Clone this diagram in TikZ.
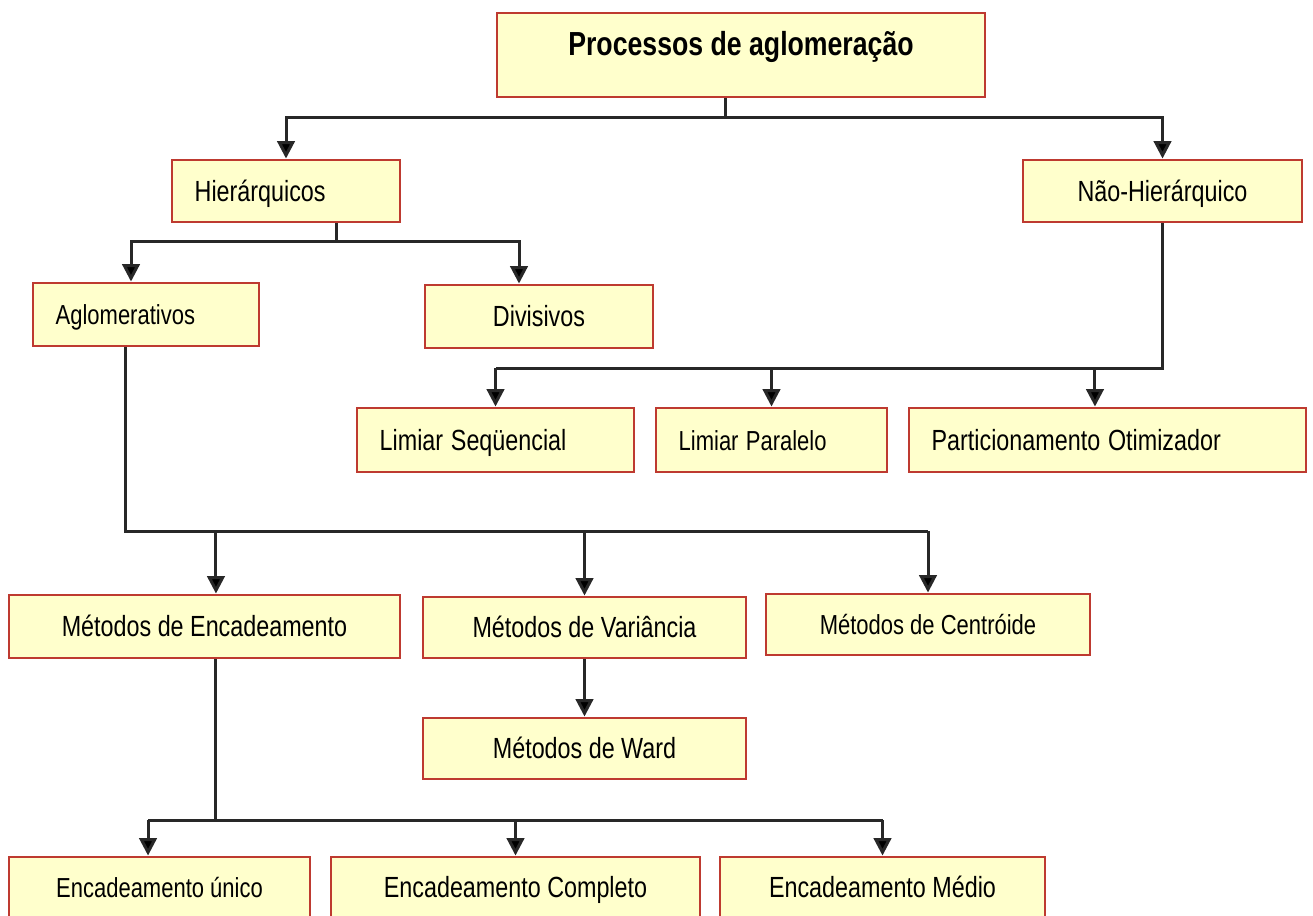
\documentclass[tikz,border=0pt]{standalone}
\usepackage{fontspec}
\setmainfont{Liberation Sans}
\usepackage{graphicx}
\usetikzlibrary{arrows.meta}
\definecolor{boxfill}{RGB}{255,255,204}
\definecolor{boxedge}{RGB}{190,58,48}
\definecolor{wirecol}{RGB}{40,40,40}
% labels are set slightly taller than wide
\newcommand\tallt[1]{\scalebox{1}[1.25]{#1}}
\begin{document}
\begin{tikzpicture}[x=0.75pt,y=-0.75pt,
  box/.style={draw=boxedge, fill=boxfill, line width=2.2pt, inner ysep=0pt, inner xsep=2pt,
    font=\fontsize{17.5}{20}\selectfont, text height=19.5pt, text depth=4pt},
  lbox/.style={box, align=left, inner xsep=17pt, text width=#1},
  smalltext/.style={font=\fontsize{16.5}{20}\selectfont},
  titlebox/.style={box, font=\bfseries\fontsize{20}{24}\selectfont, text height=10pt, text depth=10pt},
  wire/.style={draw=wirecol, line width=2.25pt, line join=miter},
  arrow/.style={wire, -{Triangle[width=13pt,length=13pt,fill=black]}}]
\useasboundingbox (0,0) rectangle (1313,915);

% boxes
\node[titlebox, minimum width=366pt, minimum height=63pt] (top) at (741,55) {\tallt{Processos de aglomeração}};
\node[lbox=137pt, minimum height=46.5pt] (hier) at (286,191) {\tallt{Hierárquicos}};
\node[box, minimum width=209.25pt, minimum height=46.5pt] (nhier) at (1162.5,191) {\tallt{Não-Hierárquico}};
\node[lbox=135.5pt, smalltext, minimum height=47.25pt] (aglo) at (146,314.5) {\tallt{Aglomerativos}};
\node[box, minimum width=171pt, minimum height=47.25pt] (div) at (539,316.5) {\tallt{Divisivos}};
\node[lbox=173.75pt, minimum height=48pt] (lseq) at (495.5,440) {\tallt{Limiar Seqüencial}};
\node[lbox=139.25pt, smalltext, minimum height=48pt] (lpar) at (771.5,440) {\tallt{Limiar Paralelo}};
\node[lbox=263.75pt, minimum height=48pt] (part) at (1107.5,440) {\tallt{Particionamento Otimizador}};
\node[box, minimum width=293.25pt, minimum height=47.25pt] (menc) at (204.5,626.5) {\tallt{Métodos de Encadeamento}};
\node[box, minimum width=242.25pt, minimum height=45.75pt] (mvar) at (584.5,627.5) {\tallt{Métodos de Variância}};
\node[box, smalltext, minimum width=243pt, minimum height=45.75pt] (mcen) at (928,624.5) {\tallt{Métodos de Centróide}};
\node[box, minimum width=242.25pt, minimum height=45.75pt] (ward) at (584.5,748.5) {\tallt{Métodos de Ward}};
\node[box, smalltext, minimum width=225.75pt, minimum height=45pt] (eu) at (159.5,887) {\tallt{Encadeamento único}};
\node[box, minimum width=276.75pt, minimum height=45pt] (ec) at (515.5,887) {\tallt{Encadeamento Completo}};
\node[box, minimum width=243.75pt, minimum height=45pt] (em) at (882.5,887) {\tallt{Encadeamento Médio}};

% bus junctions
\coordinate (b1) at (725,117);
\coordinate (b2) at (336,241);
\coordinate (b3) at (0,368);
\coordinate (b4) at (0,531);
\coordinate (b5) at (0,820);

% entry / exit points that are off centre
\coordinate (aglo in) at ([xshift=-11.25pt]aglo.north);
\coordinate (div in) at ([xshift=-15pt]div.north);
\coordinate (part in) at ([xshift=-9.4pt]part.north);
\coordinate (aglo out) at ([xshift=-15.75pt]aglo.south);
\coordinate (menc in) at ([xshift=8.6pt]menc.north);
\coordinate (menc out) at (menc in |- menc.south);
\coordinate (eu in) at ([xshift=-8.6pt]eu.north);

% processos -> hierarquicos / nao-hierarquico
\draw[wire] (top.south -| b1) -- (b1);
\draw[arrow] (b1) -| (hier.north);
\draw[arrow] (b1) -| (nhier.north);

% hierarquicos -> aglomerativos / divisivos
\draw[wire] (hier.south -| b2) -- (b2);
\draw[arrow] (b2) -| (aglo in);
\draw[arrow] (b2) -| (div in);

% nao-hierarquico -> limiar / particionamento
\draw[wire] (nhier.south) |- (lseq.north |- b3);
\draw[arrow] (lseq.north |- b3) -- (lseq.north);
\draw[arrow] (lpar.north |- b3) -- (lpar.north);
\draw[arrow] (part in |- b3) -- (part in);

% aglomerativos -> metodos
\draw[wire] (aglo out) |- (mcen.north |- b4);
\draw[arrow] (menc in |- b4) -- (menc in);
\draw[arrow] (mvar.north |- b4) -- (mvar.north);
\draw[arrow] (mcen.north |- b4) -- (mcen.north);

% variancia -> ward
\draw[arrow] (mvar.south) -- (ward.north);

% encadeamento -> variantes
\draw[wire] (menc out) -- (menc out |- b5);
\draw[wire] (eu in |- b5) -- (em.north |- b5);
\draw[arrow] (eu in |- b5) -- (eu in);
\draw[arrow] (ec.north |- b5) -- (ec.north);
\draw[arrow] (em.north |- b5) -- (em.north);
\end{tikzpicture}
\end{document}
